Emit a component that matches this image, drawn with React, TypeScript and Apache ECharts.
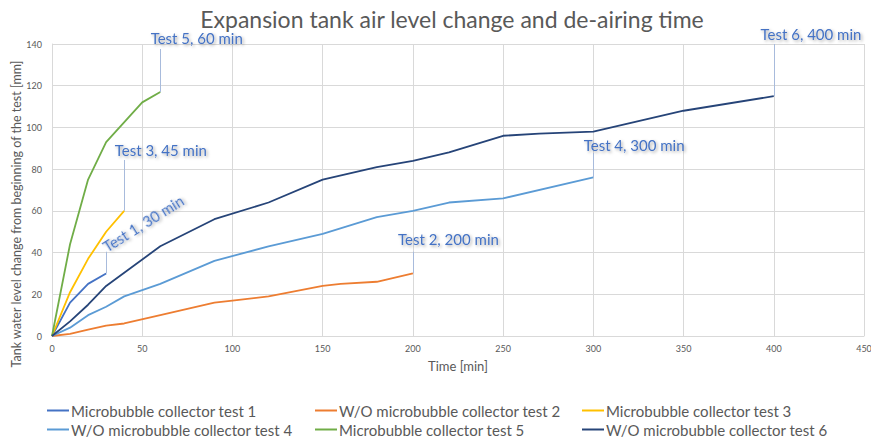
import React, { useEffect, useRef } from "react";
import * as echarts from "echarts";

const seriesNames = [
  "Microbubble collector test 1",
  "W/O microbubble collector test 2",
  "Microbubble collector test 3",
  "W/O microbubble collector test 4",
  "Microbubble collector test 5",
  "W/O microbubble collector test 6",
];
const seriesColors = ["#4472C4", "#ED7D31", "#FFC000", "#5B9BD5", "#70AD47", "#264478"];

const test1 = [[0, 0], [10, 16], [20, 25], [30, 30]];
const test2 = [[0, 0], [10, 1], [20, 3], [30, 5], [40, 6], [60, 10], [90, 16], [100, 17], [120, 19], [150, 24], [160, 25], [180, 26], [200, 30]];
const test3 = [[0, 0], [10, 21], [20, 37], [30, 50], [40, 60]];
const test4 = [[0, 0], [10, 4], [20, 10], [30, 14], [40, 19], [60, 25], [90, 36], [120, 43], [150, 49], [180, 57], [200, 60], [220, 64], [250, 66], [300, 76]];
const test5 = [[0, 0], [10, 44], [20, 75], [30, 93], [50, 112], [60, 117]];
const test6 = [[0, 0], [10, 7], [20, 15], [30, 24], [60, 43], [90, 56], [120, 64], [150, 75], [180, 81], [200, 84], [220, 88], [250, 96], [270, 97], [300, 98], [350, 108], [400, 115]];
const allSeries = [test1, test2, test3, test4, test5, test6];

const annotationTexts = ["Test 1, 30 min", "Test 2, 200 min", "Test 3, 45 min", "Test 4, 300 min", "Test 5, 60 min", "Test 6, 400 min"];
const annotationAnchors = [[50.5, 54], [219.7, 46.5], [60.3, 89.2], [322.6, 91.6], [80.2, 140], [420.6, 140]];
const annotationRotate = [32, 0, 0, 0, 0, 0];
const annotationLift = [0, 0, 0, 0, 6, 10];
const leaderTops = [40.4, 40.4, 84.4, 87.7, 137.6, 140];

const xTicks = { min: 0, max: 450, interval: 50 };
const yTicks = { min: 0, max: 140, interval: 20 };

const FONT = "Lato, 'Open Sans', sans-serif";

export default function App() {
  const ref = useRef<HTMLDivElement>(null);
  useEffect(() => {
    if (!ref.current) return;
    const chart = echarts.init(ref.current, undefined, { renderer: "svg" });
    const series = allSeries.map((data, i) => {
      const last = data[data.length - 1];
      return {
        name: seriesNames[i],
        type: "line",
        data,
        showSymbol: false,
        symbol: "none",
        clip: false,
        lineStyle: { color: seriesColors[i], width: 1.8 },
        itemStyle: { color: seriesColors[i] },
        z: i === 5 ? 3 : 2,
        markLine: {
          silent: true,
          symbol: ["none", "none"],
          label: { show: false },
          lineStyle: { color: "#A8BBDC", type: "solid", width: 1 },
          data: [[{ coord: last }, { coord: [last[0], leaderTops[i]] }]],
        },
        markPoint: {
          silent: true,
          symbol: "circle",
          symbolSize: 1,
          itemStyle: { color: "rgba(0,0,0,0)" },
          label: {
            show: true,
            position: "inside",
            offset: [0, -annotationLift[i]],
            formatter: annotationTexts[i],
            color: "#4472C4",
            fontSize: 15,
            fontFamily: FONT,
            rotate: annotationRotate[i],
            textShadowColor: "rgba(0,0,0,0.35)",
            textShadowBlur: 3,
            textShadowOffsetX: 1.5,
            textShadowOffsetY: 1.5,
          },
          data: [{ coord: annotationAnchors[i] }],
        },
      };
    });
    const legendCommon = {
      orient: "vertical",
      top: 403,
      height: 36,
      padding: 0,
      itemGap: 4,
      itemWidth: 22,
      itemHeight: 2,
      icon: "rect",
      textStyle: { color: "#595959", fontSize: 15, fontFamily: FONT, padding: [0, 0, 0, -3] },
    };
    chart.setOption({
      animation: false,
      title: {
        text: "Expansion tank air level change and de-airing time",
        left: 447,
        textAlign: "center",
        top: 2,
        textStyle: { color: "#595959", fontSize: 23, fontWeight: "normal", fontFamily: FONT },
      },
      legend: [
        { ...legendCommon, left: 47, data: [seriesNames[0], seriesNames[3]] },
        { ...legendCommon, left: 315, data: [seriesNames[1], seriesNames[4]] },
        { ...legendCommon, left: 582, data: [seriesNames[2], seriesNames[5]] },
      ],
      grid: { left: 52, right: 7, top: 44, bottom: 103, containLabel: false, outerBoundsMode: "none" },
      xAxis: {
        type: "value",
        ...xTicks,
        name: "Time [min]",
        nameLocation: "middle",
        nameGap: 23,
        nameMoveOverlap: false,
        nameTextStyle: { color: "#595959", fontSize: 13, fontFamily: FONT },
        axisLine: { show: true, lineStyle: { color: "#D9D9D9" } },
        axisTick: { show: false },
        axisLabel: { color: "#595959", fontSize: 9, fontFamily: FONT, margin: 8 },
        splitLine: { show: true, lineStyle: { color: "#D9D9D9" } },
      },
      yAxis: {
        type: "value",
        ...yTicks,
        name: "Tank water level change from beginning of the test [mm]",
        nameLocation: "middle",
        nameRotate: 90,
        nameGap: 29,
        nameMoveOverlap: false,
        nameTextStyle: { color: "#595959", fontSize: 12.5, fontFamily: FONT, padding: [0, 48, 0, 0] },
        axisLine: { show: true, lineStyle: { color: "#D9D9D9" } },
        axisTick: { show: false },
        axisLabel: { color: "#595959", fontSize: 9, fontFamily: FONT, margin: 10 },
        splitLine: { show: true, lineStyle: { color: "#D9D9D9" } },
      },
      series,
    });
    return () => chart.dispose();
  }, []);
  return <div ref={ref} style={{ width: 871, height: 439, position: "absolute", left: 0, top: 0, background: "#fff" }} />;
}
